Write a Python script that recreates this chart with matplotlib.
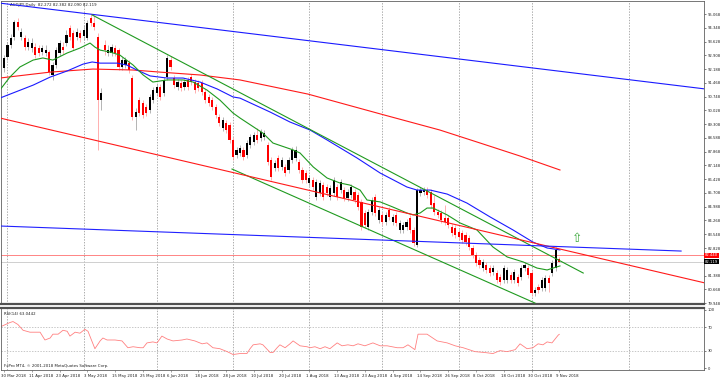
import matplotlib
matplotlib.use("Agg")
import matplotlib.pyplot as plt

# --- daily candles, bar 0 = 30 Mar 2018, bar 160 = 9 Nov 2018 ---
opens = [92.24, 92.82, 93.45, 93.86, 94.65, 93.86, 93.81, 93.34, 93.29, 93.34,
         93.29, 93.08, 93.03, 93.08, 91.88, 92.40, 93.03, 93.34, 93.55, 94.34,
         94.07, 93.86, 94.07, 93.92, 93.81, 94.86, 94.60, 93.86, 90.57, 93.45,
         93.03, 93.03, 93.29, 93.18, 92.30, 92.40, 92.50, 91.72, 89.68, 90.57,
         90.41, 90.20, 90.05, 90.57, 90.94, 91.25, 90.94, 91.77, 92.66, 91.72,
         91.25, 91.46, 91.25, 91.62, 91.77, 91.51, 91.46, 91.46, 90.99, 90.73,
         90.57, 90.20, 89.68, 89.11, 89.37, 89.26, 88.48, 87.69, 87.80, 87.96,
         87.69, 88.22, 88.37, 88.74, 88.58, 88.63, 88.22, 87.43, 87.01, 87.54,
         87.07, 87.07, 86.91, 87.43, 87.54, 87.33, 86.91, 86.75, 86.23, 86.39,
         85.50, 85.71, 86.12, 86.02, 85.50, 85.71, 86.02, 85.86, 85.86, 85.44,
         85.60, 85.76, 85.60, 85.24, 84.66, 83.93, 84.71, 85.50, 84.29, 84.56,
         84.19, 84.82, 84.19, 84.56, 83.77, 83.77, 83.93, 84.40, 83.77, 82.99,
         85.71, 85.76, 85.86, 85.76, 85.18, 84.71, 84.66, 84.40, 84.40, 83.93,
         83.88, 83.67, 83.61, 83.51, 83.35, 82.83, 82.46, 82.20, 81.78, 81.94,
         81.78, 81.57, 81.52, 81.31, 81.16, 81.16, 81.42, 81.16, 81.31, 81.31,
         81.78, 81.78, 81.52, 80.48, 80.79, 80.74, 80.74, 81.26, 81.52, 81.78,
         82.27]
highs = [92.92, 93.60, 94.02, 94.75, 94.86, 94.34, 93.97, 93.81, 93.81, 93.55,
         93.45, 93.45, 93.45, 93.18, 92.56, 93.34, 93.71, 93.60, 94.23, 94.49,
         94.23, 94.34, 94.23, 94.49, 94.75, 95.07, 95.02, 94.07, 91.20, 93.71,
         93.45, 93.50, 93.45, 93.29, 92.82, 92.82, 92.66, 91.88, 90.15, 90.73,
         90.57, 90.36, 90.88, 91.25, 91.41, 91.41, 91.77, 92.92, 92.87, 91.88,
         91.67, 91.62, 91.67, 91.77, 91.93, 91.67, 91.62, 91.62, 91.15, 90.88,
         90.73, 90.36, 89.84, 89.68, 89.52, 89.42, 88.63, 88.11, 88.22, 88.11,
         88.48, 88.79, 88.90, 89.11, 89.05, 89.00, 88.37, 87.59, 87.43, 87.69,
         87.59, 87.22, 87.59, 88.11, 88.16, 87.48, 87.07, 86.91, 86.65, 86.54,
         86.44, 86.39, 86.28, 86.18, 86.12, 86.54, 86.18, 86.44, 86.02, 85.92,
         86.18, 85.92, 85.76, 85.39, 84.82, 84.87, 85.50, 85.65, 84.97, 84.71,
         84.71, 84.97, 84.61, 84.71, 84.29, 84.19, 84.35, 84.56, 83.93, 85.97,
         86.02, 86.02, 86.02, 85.92, 85.60, 84.87, 84.82, 85.08, 84.56, 84.08,
         84.03, 83.82, 83.77, 83.67, 83.51, 82.99, 82.62, 82.36, 82.25, 82.10,
         81.94, 81.94, 81.68, 81.47, 81.94, 81.84, 81.57, 81.73, 81.47, 81.94,
         82.10, 81.94, 81.68, 80.79, 80.95, 81.31, 81.42, 81.42, 82.20, 82.88,
         82.38]
lows = [92.03, 92.66, 93.29, 93.71, 94.23, 93.71, 93.18, 93.18, 93.08, 92.77,
        92.87, 92.92, 92.87, 91.88, 91.62, 92.24, 92.87, 92.98, 93.39, 93.71,
        93.18, 93.71, 93.60, 93.71, 93.71, 94.44, 94.23, 87.96, 90.05, 92.92,
        92.87, 92.87, 92.87, 92.14, 92.14, 92.24, 91.98, 89.52, 89.00, 89.73,
        89.63, 89.73, 89.89, 90.41, 90.78, 90.57, 90.78, 91.62, 92.14, 91.20,
        91.09, 91.04, 91.09, 91.09, 91.35, 90.94, 91.04, 90.83, 90.41, 90.26,
        90.05, 89.63, 89.21, 88.95, 88.84, 88.32, 87.43, 87.54, 87.64, 87.43,
        87.54, 88.06, 88.22, 88.32, 88.43, 88.48, 87.17, 86.39, 86.86, 86.86,
        86.91, 86.60, 86.75, 87.28, 87.38, 86.75, 86.23, 86.23, 86.07, 85.86,
        85.34, 85.55, 85.34, 85.55, 85.34, 85.55, 85.34, 85.71, 85.29, 85.29,
        85.44, 85.18, 84.82, 83.77, 83.88, 83.77, 84.56, 84.50, 84.14, 84.03,
        84.03, 84.29, 84.03, 83.98, 83.61, 83.61, 83.77, 83.61, 82.93, 82.88,
        85.55, 85.60, 85.44, 84.92, 84.56, 84.40, 84.14, 84.03, 83.88, 83.46,
        83.35, 83.25, 83.09, 82.99, 82.73, 82.31, 81.89, 81.78, 81.63, 81.52,
        81.37, 81.42, 81.00, 80.89, 81.00, 81.00, 81.00, 81.00, 80.84, 81.16,
        81.63, 81.26, 80.32, 80.32, 80.48, 80.58, 80.58, 80.53, 81.37, 81.63,
        82.09]
closes = [92.77, 93.45, 93.81, 94.65, 94.39, 94.13, 93.34, 93.60, 93.55, 92.92,
          93.03, 93.29, 93.18, 92.03, 92.40, 93.18, 93.55, 93.18, 93.97, 93.86,
          93.29, 94.13, 93.81, 94.23, 94.60, 94.60, 94.39, 90.57, 90.94, 93.18,
          93.18, 93.34, 93.03, 92.30, 92.66, 92.66, 92.14, 89.68, 89.94, 89.89,
          89.79, 89.89, 90.73, 91.09, 91.25, 90.73, 91.62, 92.77, 92.30, 91.35,
          91.51, 91.20, 91.51, 91.25, 91.51, 91.09, 91.20, 90.99, 90.57, 90.41,
          90.20, 89.79, 89.37, 89.52, 89.00, 88.48, 87.59, 87.96, 88.06, 87.59,
          88.32, 88.63, 88.74, 88.48, 88.90, 88.84, 87.33, 86.54, 87.28, 87.01,
          87.43, 86.75, 87.43, 87.96, 87.96, 86.91, 86.39, 86.39, 86.49, 86.02,
          86.28, 86.23, 85.50, 85.71, 85.97, 86.39, 85.50, 86.28, 85.44, 85.76,
          86.02, 85.34, 84.97, 83.93, 84.03, 84.71, 85.34, 84.66, 84.82, 84.19,
          84.56, 84.45, 84.45, 84.14, 84.14, 84.03, 84.19, 83.77, 83.09, 85.86,
          85.86, 85.86, 85.60, 85.08, 84.71, 84.56, 84.29, 84.19, 84.03, 83.61,
          83.51, 83.40, 83.25, 83.14, 82.88, 82.46, 82.05, 81.94, 82.10, 81.68,
          81.52, 81.78, 81.16, 81.05, 81.78, 81.68, 81.16, 81.57, 81.00, 81.78,
          81.94, 81.42, 80.48, 80.63, 80.63, 81.16, 81.26, 81.00, 82.05, 82.73,
          82.12]

# moving averages (bar index, price)
ma_green_x = [-1.2, 1.7, 4.6, 8.4, 11.2, 14.1, 18.2, 21.9, 24.8, 26.2, 27.7, 30.6, 33.4,
              37.2, 40.1, 42.9, 47.0, 51.6, 54.5, 58.5, 62.2, 66.0, 68.0, 74.6, 77.5,
              83.3, 85.3, 89.1, 93.1, 96.8, 99.7, 102.6, 104.6, 108.4, 112.1, 116.1,
              117.9, 119.9, 121.9, 123.6, 127.7, 131.4, 136.3, 140.9, 145.0, 149.6,
              153.6, 156.5, 158.2, 160.2]
ma_green_y = [91.09, 91.77, 92.30, 92.66, 92.77, 92.66, 93.03, 93.29, 93.55, 93.34, 93.18,
              93.08, 92.92, 92.40, 91.88, 91.51, 91.62, 91.62, 91.51, 91.09, 90.57, 89.89,
              89.63, 88.84, 88.32, 87.96, 87.80, 87.07, 86.49, 86.23, 86.12, 85.86, 85.34,
              85.24, 84.97, 84.66, 84.56, 84.66, 84.92, 84.92, 84.56, 84.14, 83.77, 82.88,
              82.36, 82.10, 81.78, 81.68, 81.78, 81.89]
ma_blue_x = [-1.2, 8.4, 13.3, 18.2, 22.8, 25.4, 27.7, 32.6, 35.4, 38.3, 42.1, 47.0, 51.6,
             56.5, 61.4, 66.0, 68.0, 76.7, 82.4, 88.2, 93.1, 101.7, 108.4, 116.1, 119.0,
             122.8, 127.7, 133.4, 140.1, 146.7, 152.4, 156.5, 160.2]
ma_blue_y = [90.67, 91.35, 91.77, 92.09, 92.45, 92.56, 92.50, 92.50, 92.40, 92.14, 91.83,
             91.72, 91.72, 91.51, 91.15, 90.73, 90.67, 89.94, 89.42, 89.00, 88.48, 87.54,
             86.75, 86.02, 85.86, 85.86, 85.65, 85.18, 84.45, 83.77, 83.14, 82.83, 82.73]
ma_red_x = [-1.2, 13.3, 25.6, 37.2, 45.0, 56.5, 68.0, 87.6, 109.5, 125.6, 137.2, 148.7, 160.2]
ma_red_y = [91.72, 92.03, 92.19, 92.14, 92.03, 91.88, 91.62, 90.88, 89.79, 89.00, 88.32,
            87.64, 86.91]

# trendlines: (x0, y0, x1, y1) in bars / price
trend_blue_top = (-1.2, 95.64, 202.0, 91.15)
trend_green_up = (25.4, 95.02, 166.9, 81.52)
trend_green_low = (65.7, 86.96, 153.0, 79.95)
trend_red = (-1.2, 89.63, 202.0, 81.00)
trend_blue_low = (-1.2, 83.98, 195.1, 82.67)
level_line = 82.44
bid = 82.119

# RSI(14)
rsi_x = [-1.2, 1.7, 2.6, 4.0, 5.5, 7.5, 10.4, 11.8, 13.3, 14.1, 15.6, 17.0, 18.2, 19.0,
         20.5, 21.9, 23.3, 24.2, 26.2, 27.7, 28.5, 29.7, 30.5, 32.0, 34.0, 35.7, 37.2,
         39.2, 40.1, 41.2, 42.9, 44.1, 45.5, 47.0, 48.7, 51.3, 52.7, 55.0, 57.1, 58.5,
         60.2, 62.2, 64.3, 66.0, 68.0, 70.0, 70.9, 71.8, 73.8, 74.6, 76.7, 77.5, 78.7,
         79.5, 81.0, 82.4, 83.3, 85.3, 87.3, 88.2, 89.6, 91.1, 92.5, 93.9, 96.0, 97.4,
         99.1, 100.6, 102.0, 104.0, 106.3, 108.4, 110.4, 113.3, 115.0, 116.4, 118.4,
         119.3, 121.9, 124.8, 127.7, 130.0, 132.3, 135.7, 138.6, 140.9, 142.9, 145.0,
         147.3, 148.7, 150.7, 152.4, 153.9, 155.3, 156.5, 157.9, 159.7, 160.0]
rsi_y = [70.5, 78.3, 80.0, 75.0, 65.0, 61.7, 61.7, 48.3, 51.7, 58.3, 58.3, 65.0, 63.3, 55.0,
         61.7, 60.0, 66.7, 63.3, 33.3, 46.7, 51.7, 48.3, 48.3, 48.3, 46.7, 35.0, 36.7, 35.0,
         35.0, 43.3, 45.0, 43.3, 55.0, 50.0, 46.7, 48.3, 50.0, 46.7, 41.7, 43.3, 35.0, 33.3,
         28.3, 23.3, 25.0, 25.0, 33.3, 40.0, 41.7, 40.0, 26.7, 26.7, 35.0, 40.0, 35.0, 41.7,
         46.7, 38.3, 36.7, 35.0, 36.7, 33.3, 36.7, 33.3, 43.3, 38.3, 40.0, 38.3, 41.7, 38.3,
         43.3, 38.3, 38.3, 35.0, 35.0, 40.0, 31.7, 58.3, 58.3, 46.7, 43.3, 38.3, 35.0, 28.3,
         26.7, 25.0, 30.0, 28.3, 31.7, 41.7, 33.3, 35.0, 41.7, 40.0, 45.0, 43.3, 56.7, 58.0]

price_ticks = [95.068, 94.348, 93.628, 92.908, 92.188, 91.468, 90.748, 90.028, 89.308,
               88.588, 87.868, 87.148, 86.428, 85.708, 84.988, 84.268, 83.548, 82.828,
               81.388, 80.668, 79.948]
rsi_ticks = [100, 70, 30, 0]
grid_bars = [1, 23, 44, 66, 88, 109, 131, 152, 180]
date_bars = list(range(0, 161, 8))
date_labels = ["30 Mar 2018", "11 Apr 2018", "23 Apr 2018", "3 May 2018", "15 May 2018",
               "25 May 2018", "6 Jun 2018", "18 Jun 2018", "28 Jun 2018", "10 Jul 2018",
               "20 Jul 2018", "1 Aug 2018", "13 Aug 2018", "23 Aug 2018", "4 Sep 2018",
               "14 Sep 2018", "26 Sep 2018", "8 Oct 2018", "18 Oct 2018", "30 Oct 2018",
               "9 Nov 2018"]

W, H = 721, 378
fig = plt.figure(figsize=(W / 100, H / 100), dpi=100)
ax = fig.add_axes([1 / W, 1 - 304 / H, 703 / W, 303 / H])
rsi = fig.add_axes([1 / W, 8 / H, 703 / W, 62 / H])
XL = (-0.86, 201.7)

for a in (ax, rsi):
    a.set_xlim(*XL)
    for b in grid_bars:
        a.axvline(b, color="#8c8c8c", lw=0.5, ls=(0, (2, 2)), zorder=0)
    for s in a.spines.values():
        s.set_color("#606060")
        s.set_linewidth(0.6)
ax.spines["bottom"].set_linewidth(1.6)
ax.spines["bottom"].set_color("#505050")
rsi.spines["top"].set_linewidth(1.6)
rsi.spines["top"].set_color("#505050")

# --- candles ---
for i in range(len(opens)):
    o, h, l, c = opens[i], highs[i], lows[i], closes[i]
    up = c >= o
    ax.vlines(i, l, h, color="#a0a0a0" if up else "#ff9a9a", lw=0.55, zorder=2)
    lo, hi = min(o, c), max(o, c)
    ax.bar(i, max(hi - lo, 0.04), bottom=lo, width=0.62,
           color="#000000" if up else "#ff0000", lw=0, zorder=3)

ax.axhline(level_line, color="#ff7070", lw=0.6, zorder=1)
ax.axhline(bid, color="#c8c8c8", lw=0.6, zorder=1)

# --- moving averages ---
ax.plot(ma_red_x, ma_red_y, color="#ff1a1a", lw=0.8, zorder=4)
ax.plot(ma_blue_x, ma_blue_y, color="#1a1aff", lw=0.8, zorder=4)
ax.plot(ma_green_x, ma_green_y, color="#1f9a1f", lw=0.8, zorder=4)

# --- trendlines ---
for (x0, y0, x1, y1), col in [(trend_blue_top, "#1a1aff"), (trend_green_up, "#1f9a1f"),
                              (trend_green_low, "#1f9a1f"), (trend_red, "#ff1a1a"),
                              (trend_blue_low, "#2020ff")]:
    ax.plot([x0, x1], [y0, y1], color=col, lw=0.8, zorder=5)

ax.text(165.1, 83.35, "\u21e7", color="#3aa83a", fontsize=9, ha="center", va="center",
        zorder=6)

ax.set_ylim(79.90, 95.75)
ax.yaxis.tick_right()
ax.set_yticks(price_ticks)
ax.set_yticklabels([f"{v:.3f}" for v in price_ticks])
ax.tick_params(axis="y", labelsize=2.7, length=1.5, width=0.4, pad=1, colors="#202020")
ax.set_xticks([])

ytr = ax.get_yaxis_transform()
ax.text(1.0015, level_line, f"{level_line:.3f}", transform=ytr, fontsize=2.7, color="white",
        va="center", ha="left", bbox=dict(facecolor="#ff0000", edgecolor="none", pad=0.6))
ax.text(1.0015, bid, f"{bid:.3f}", transform=ytr, fontsize=2.7, color="white",
        va="center", ha="left", bbox=dict(facecolor="#000000", edgecolor="none", pad=0.6))
ax.text(0.013, 0.993, "AUDJPY,Daily  82.272 82.382 82.090 82.119", transform=ax.transAxes,
        fontsize=2.8, va="top", ha="left", color="#202020")

# --- RSI ---
rsi.plot(rsi_x, rsi_y, color="#ff8080", lw=0.6)
for v in (70, 30):
    rsi.axhline(v, color="#b0b0b0", lw=0.5, ls=(0, (2, 2)), zorder=0)
rsi.set_ylim(-3.3, 103.3)
rsi.yaxis.tick_right()
rsi.set_yticks(rsi_ticks)
rsi.set_yticklabels([str(v) for v in rsi_ticks])
rsi.tick_params(axis="y", labelsize=2.7, length=1.5, width=0.4, pad=1, colors="#202020")
rsi.set_xticks(date_bars)
rsi.set_xticklabels([])
rsi.tick_params(axis="x", length=1.5, width=0.4, colors="#606060")
rsi.text(0.004, 0.93, "RSI(14) 63.0442", transform=rsi.transAxes, fontsize=2.8,
         va="top", ha="left", color="#202020")
rsi.text(0.004, 0.03, "FxPro MT4, \u00a9 2001-2018 MetaQuotes Software Corp.",
         transform=rsi.transAxes, fontsize=2.8, va="bottom", ha="left", color="#202020")
xtr = rsi.get_xaxis_transform()
for b, lab in zip(date_bars, date_labels):
    rsi.text(b - 0.9, -0.06, lab, transform=xtr, fontsize=2.8, ha="left", va="top",
             color="#202020")

fig.savefig("out.png", dpi=100, facecolor="white")
